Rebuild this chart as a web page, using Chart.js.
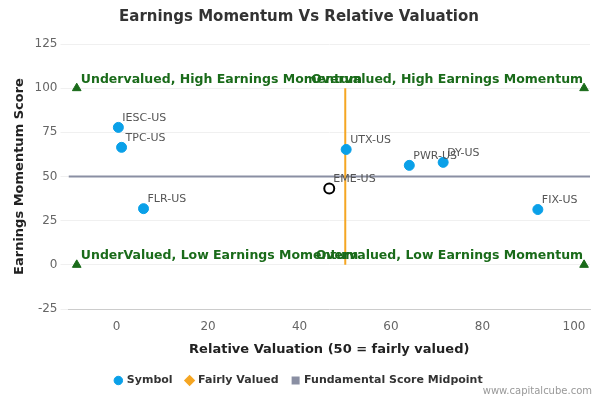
<!DOCTYPE html>
<html>
<head>
<meta charset="utf-8">
<script src="https://cdn.jsdelivr.net/npm/chart.js@4"></script>
<style>
  body { margin: 0; background: #fff; }
  #wrap { width: 600px; height: 400px; position: relative; }
  #credit { position: absolute; right: 8px; bottom: 4px; font: 10px "DejaVu Sans", sans-serif; color: #999; }
</style>
</head>
<body>
<div id="wrap"><canvas id="chart" width="600" height="400"></canvas><div id="credit">www.capitalcube.com</div></div>
<script>
const symbols = ['IESC-US', 'TPC-US', 'FLR-US', 'UTX-US', 'EME-US', 'PWR-US', 'DY-US', 'FIX-US'];
const valuation = [0.4, 1.1, 5.9, 50.2, 46.5, 64, 71.4, 92.1];
const momentum = [77.8, 66.5, 31.8, 65.3, 43.2, 56.3, 58, 31.3];
const highlighted = 'EME-US';

const xTicks = [0, 20, 40, 60, 80, 100];

const cornerX = [-8.7, 102.2, -8.7, 102.2];
const cornerY = [100, 100, 0, 0];

const fairX = [50, 50];
const fairY = [0, 100];
const midX = [-10.5, 103.5];
const midY = [50, 50];

const quadrantLabels = [
    { text: 'Undervalued, High Earnings Momentum', x: -7.8, y: 105, align: 'left' },
    { text: 'Overvalued, High Earnings Momentum', x: 102, y: 105, align: 'right' },
    { text: 'UnderValued, Low Earnings Momentum', x: -7.8, y: 5, align: 'left' },
    { text: 'Overvalued, Low Earnings Momentum', x: 102, y: 5, align: 'right' }
];

const font = '"DejaVu Sans", sans-serif';
Chart.defaults.font.family = font;

const pointLabels = {
    id: 'pointLabels',
    afterDatasetsDraw(chart) {
        const ctx = chart.ctx;
        const meta = chart.getDatasetMeta(0);
        ctx.save();
        ctx.font = '11px ' + font;
        ctx.fillStyle = '#555';
        ctx.textAlign = 'left';
        ctx.textBaseline = 'bottom';
        meta.data.forEach((pt, i) => ctx.fillText(symbols[i], pt.x + 4, pt.y - 4));
        const xs = chart.scales.x, ys = chart.scales.y;
        ctx.font = 'bold 12.5px ' + font;
        ctx.fillStyle = '#1a6b1a';
        ctx.textBaseline = 'middle';
        quadrantLabels.forEach(q => {
            ctx.textAlign = q.align;
            ctx.fillText(q.text, xs.getPixelForValue(q.x), ys.getPixelForValue(q.y));
        });
        ctx.restore();
    }
};

new Chart(document.getElementById('chart'), {
    type: 'scatter',
    data: {
        datasets: [
            {
                label: 'Symbol',
                data: valuation.map((v, i) => ({ x: v, y: momentum[i] })),
                backgroundColor: symbols.map(s => s === highlighted ? '#fff' : '#0aa0e8'),
                borderColor: symbols.map(s => s === highlighted ? '#000' : '#0aa0e8'),
                borderWidth: symbols.map(s => s === highlighted ? 2 : 1),
                pointRadius: 5,
                order: 1
            },
            {
                label: 'Fairly Valued',
                type: 'line',
                data: fairX.map((v, i) => ({ x: v, y: fairY[i] })),
                borderColor: '#f5a623',
                backgroundColor: '#f5a623',
                borderWidth: 2,
                pointRadius: 0,
                pointStyle: 'rectRot',
                order: 2
            },
            {
                label: 'Fundamental Score Midpoint',
                type: 'line',
                data: midX.map((v, i) => ({ x: v, y: midY[i] })),
                borderColor: '#8a8fa3',
                backgroundColor: '#8a8fa3',
                borderWidth: 2,
                pointRadius: 0,
                pointStyle: 'rect',
                order: 3
            },
            {
                label: 'corners',
                data: cornerX.map((v, i) => ({ x: v, y: cornerY[i] })),
                pointStyle: 'triangle',
                pointRadius: 5,
                backgroundColor: '#1a6b1a',
                borderColor: '#1a6b1a',
                order: 0
            }
        ]
    },
    options: {
        responsive: false,
        animation: false,
        layout: { padding: { left: 8, right: 10, top: 0, bottom: 4 } },
        plugins: {
            title: {
                display: true,
                text: 'Earnings Momentum Vs Relative Valuation',
                font: { size: 15, weight: 'bold' },
                color: '#333',
                padding: { top: 8, bottom: 18 }
            },
            legend: {
                position: 'bottom',
                labels: {
                    filter: item => item.text !== 'corners',
                    usePointStyle: true,
                    boxWidth: 6,
                    boxHeight: 6,
                    padding: 14,
                    font: { size: 11, weight: 'bold' },
                    color: '#333'
                }
            },
            tooltip: { enabled: false }
        },
        scales: {
            x: {
                min: -10.5, max: 103.5,
                afterBuildTicks: axis => { axis.ticks = xTicks.map(v => ({ value: v })); },
                title: { display: true, text: 'Relative Valuation (50 = fairly valued)', font: { size: 13, weight: 'bold' }, color: '#222' },
                ticks: { color: '#666' },
                grid: { display: false },
                border: { color: '#ccc' }
            },
            y: {
                min: -25, max: 125,
                title: { display: true, text: 'Earnings Momentum Score', font: { size: 13, weight: 'bold' }, color: '#222' },
                ticks: { stepSize: 25, color: '#666' },
                grid: { color: '#f0f0f0' },
                border: { display: false }
            }
        }
    },
    plugins: [pointLabels]
});
</script>
</body>
</html>
